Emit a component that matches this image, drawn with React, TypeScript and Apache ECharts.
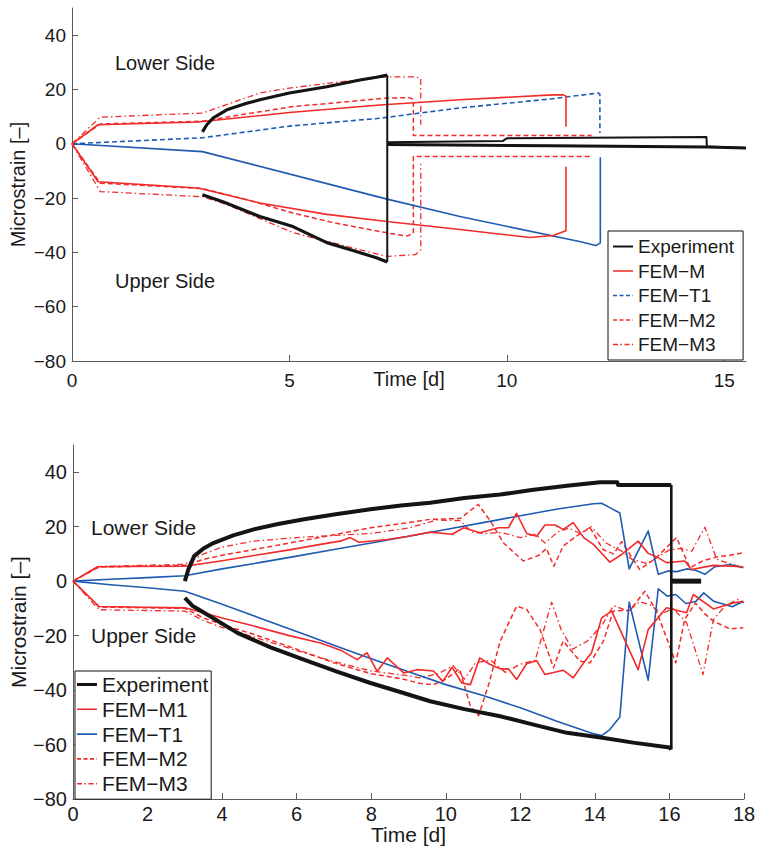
import React, { useEffect, useRef } from "react";
import * as echarts from "echarts";

// ---------- Top chart data [time (d), microstrain] ----------
const topExpUpper = [[3.0, 4.4], [3.1, 7], [3.25, 9.5], [3.56, 12.5], [4.0, 14.8], [4.32, 16.2], [5.0, 18.7], [5.86, 21], [6.62, 23.5], [7.0, 24.5], [7.25, 25.3]];
const topExpLower = [[3.0, -18.8], [3.5, -21.5], [4.32, -26.8], [5.08, -30.5], [5.86, -36.4], [6.5, -39.5], [7.0, -42], [7.25, -43.5]];
const topExpDrop = [[7.25, 25.3], [7.25, -43.5]];
const topExpAfterA = [[7.25, 0.6], [9.9, 1.0], [10.0, 2.0], [14.59, 2.5], [14.6, -1.0], [15.5, -1.6]];
const topExpAfterB = [[7.25, -0.3], [11.0, -0.7], [14.6, -1.2], [15.5, -1.6]];
const topMUpper = [[0, 0], [0.6, 7], [2.9, 8], [5.0, 11.5], [7.08, 14.3], [8.92, 16.2], [11.06, 18], [11.3, 18], [11.36, 17.5], [11.36, 6.3]];
const topMLower = [[0, 0], [0.6, -14], [2.9, -16.3], [4.32, -21.8], [5.86, -26], [7.24, -28.6], [8.92, -31.6], [10.53, -34.5], [11.06, -33.8], [11.36, -32], [11.36, -8.5]];
const topT1Upper = [[0, 0], [3, 2.2], [5, 6.5], [7.08, 9.4], [8.92, 13.2], [11, 16.5], [12.1, 18.7], [12.14, 18.3], [12.14, 4]];
const topT1Lower = [[0, 0], [3, -2.9], [7.2, -20.2], [8.92, -26.8], [11.67, -36], [12.05, -37.5], [12.15, -36.5], [12.15, -5]];
const topM2Upper = [[0, 0], [0.65, 7.3], [3, 8.3], [4, 11], [5.08, 13.7], [6, 15], [7.2, 16.8], [7.75, 17], [7.85, 16.4], [7.85, 3], [11.95, 3]];
const topM2Lower = [[0, 0], [0.65, -14.5], [3, -16.5], [4, -20.5], [5.08, -25.5], [6, -29], [7.24, -32.8], [7.7, -34], [7.85, -33], [7.85, -4.7], [11.95, -4.7]];
const topM3Upper = [[0, 0], [0.65, 9.8], [3, 11.3], [4.32, 18.7], [5, 20.5], [6, 22.5], [7.2, 24.6], [7.9, 24.6], [8.02, 24], [8.02, 7]];
const topM3Lower = [[0, 0], [0.65, -17.6], [3, -19.5], [3.56, -22.4], [5.08, -32.7], [6, -36.5], [7.24, -41.5], [7.9, -40.8], [8.02, -39], [8.02, -7.4]];

// ---------- Bottom chart data ----------
const botExpUpper = [[3.0, 0], [3.1, 4.5], [3.25, 9.2], [3.5, 12], [3.78, 14.1], [4.3, 16.8], [4.85, 19], [5.5, 21], [6.2, 22.7], [7.0, 24.5], [7.98, 26.4], [8.8, 27.8], [9.58, 28.8], [10.5, 30.5], [11.46, 31.8], [12.3, 33.5], [13.25, 35], [14.14, 36.3], [14.6, 36.3], [14.62, 35.3], [16.05, 35.3]];
const botExpLower = [[3.0, -6.1], [3.2, -9], [3.52, -11.6], [4.41, -19], [5.3, -24.3], [6.19, -28.8], [7.1, -33.3], [7.98, -37.4], [8.8, -40.8], [9.58, -44.1], [10.5, -47], [11.46, -49.6], [12.3, -52.5], [13.25, -55.7], [14.2, -57.5], [15.03, -59.3], [16.0, -61.1], [16.05, -61.8]];
const botExpDrop = [[16.05, 35.3], [16.05, -61.8]];
const botExpAfter = [[16.05, 0], [16.85, 0]];
const botM1Upper = [[0, 0], [0.66, 5.3], [1.5, 5.4], [3, 5.5], [4, 7.5], [4.85, 9.4], [5.8, 11.5], [6.64, 13.5], [7.2, 14.8], [7.44, 16], [7.67, 14.3], [8.43, 15.3], [9.0, 16.5], [9.58, 18], [10.17, 17.2], [10.48, 19.6], [10.92, 17.8], [11.41, 19.6], [11.68, 19.6], [11.9, 24.9], [12.17, 17.5], [12.44, 16.5], [12.66, 20.6], [12.93, 20.6], [13.15, 19], [13.42, 21.5], [13.7, 16], [13.96, 13.5], [14.2, 10], [14.4, 7], [14.72, 9.8], [15.16, 14.7], [15.43, 10.2], [15.65, 9], [15.92, 6.8], [16.41, 7.4], [16.59, 4.3], [17.18, 5.8], [17.98, 5.3]];
const botM1Lower = [[0, 0], [0.7, -9.3], [1.5, -9.5], [3, -9.8], [4, -13.5], [4.85, -16.5], [5.8, -20], [6.64, -22.7], [7.2, -25.5], [7.62, -28.8], [7.89, -26.3], [8.16, -33.1], [8.43, -28.2], [8.87, -33.7], [9.23, -32.5], [9.67, -33], [9.92, -36.8], [10.17, -31.6], [10.43, -37.4], [10.66, -38], [10.91, -28.2], [11.19, -30.6], [11.46, -32.2], [11.68, -32.2], [11.9, -36.1], [12.17, -30.3], [12.44, -29.2], [12.66, -34.3], [13.15, -32.7], [13.42, -35.5], [13.7, -30], [13.91, -26.3], [14.18, -13.5], [14.45, -11], [15.16, -32.5], [15.43, -17.8], [15.92, -9.8], [16.46, -11.6], [16.64, -4.9], [17.18, -10.2], [17.71, -8], [17.98, -7.4]];
const botT1Upper = [[0, 0], [1, 0.7], [2, 1.3], [3, 2], [4, 4.5], [5, 6.8], [6, 9.2], [7, 11.6], [8, 14], [9, 16.5], [10, 19], [11, 21.5], [12, 24], [13, 26.5], [13.96, 28.4], [14.18, 28.6], [14.4, 27], [14.67, 25], [14.92, 4.5], [15.43, 18.4], [15.7, 2.5], [15.97, 3.7], [16.2, 3.5], [16.46, 4.5], [16.7, 4], [16.95, 2.5], [17.22, 5.3], [17.62, 6.1], [17.98, 4.9]];
const botT1Lower = [[0, 0], [1, -1.3], [2, -2.4], [3, -3.7], [4, -8.5], [5, -13.5], [6, -18.5], [7, -23.5], [8, -28.5], [9, -33.3], [10, -38], [11, -42], [12, -46.5], [13, -51.5], [13.96, -56], [14.18, -56.7], [14.4, -54.5], [14.67, -49.9], [14.92, -7.7], [15.43, -36.4], [15.7, -2.8], [15.94, -5.5], [16.17, -4.9], [16.44, -8.2], [16.7, -7.5], [16.92, -4.3], [17.19, -7.4], [17.69, -9.4], [17.98, -7.4]];
const botM2Upper = [[0, 0], [0.7, 5.2], [3, 5.8], [3.5, 8], [4, 9.5], [4.85, 11.6], [6, 14.5], [7, 17], [7.98, 19.6], [9, 21.5], [9.58, 22.7], [10.39, 23], [10.87, 28.2], [11.2, 22], [11.55, 14], [12.08, 7.4], [12.5, 9.5], [12.7, 12], [12.9, 5.5], [13.15, 12.9], [13.5, 16.5], [13.87, 19.6], [14.22, 11.6], [14.5, 10], [14.72, 14.5], [15.2, 4.3], [15.6, 8], [16.19, 16], [16.55, 4.9], [16.9, 7.5], [17.3, 9], [17.62, 9.5], [17.98, 10.4]];
const botM2Lower = [[0, 0], [0.7, -9.5], [3, -10], [3.5, -13.5], [4, -16], [4.85, -19.5], [6, -25], [7, -30], [8, -34], [8.87, -36], [9.3, -37.5], [9.67, -38], [10.0, -36], [10.37, -32.2], [10.66, -46], [10.88, -49.4], [11.15, -38], [11.46, -22], [11.9, -9.2], [12.17, -10.4], [12.53, -17.8], [12.89, -31.8], [13.15, -22], [13.6, -29.4], [13.87, -30], [14.23, -22], [14.49, -11], [14.94, -10.7], [15.34, -3.7], [15.65, -11], [15.9, -20], [16.17, -30], [16.41, -14], [16.7, -8], [16.95, -12], [17.18, -14.7], [17.62, -17.5], [17.98, -17.1]];
const botM3Upper = [[0, 0], [0.7, 5.4], [3, 6.2], [3.5, 10], [4, 12.5], [4.85, 14.7], [6, 16], [7, 16.8], [7.98, 17.5], [9, 19.5], [9.76, 22.5], [10.39, 22.2], [10.7, 18], [11.0, 17.5], [11.5, 17.8], [12.0, 16], [12.4, 17.2], [12.66, 14], [13.0, 18], [13.3, 19.5], [13.6, 17.5], [13.9, 20], [14.3, 14], [14.72, 11], [15.0, 8], [15.4, 6.5], [15.7, 9], [16.0, 11.5], [16.3, 12], [16.6, 11], [16.95, 19.8], [17.27, 8], [17.6, 6.5], [17.98, 5]];
const botM3Lower = [[0, 0], [0.7, -10.5], [3, -11], [3.5, -14.5], [4, -17], [4.85, -20.5], [6, -25.5], [7, -29.5], [8, -33], [8.87, -34.5], [9.3, -35.5], [9.8, -34], [10.2, -31], [10.5, -36], [10.8, -30], [11.2, -29], [11.6, -33.5], [12.0, -30.5], [12.4, -29], [12.84, -7.7], [13.1, -18], [13.4, -25], [13.8, -22], [14.2, -16], [14.5, -9], [14.9, -11], [15.2, -7.5], [15.47, -8.6], [15.8, -12], [16.1, -10], [16.46, -15.3], [16.9, -34.3], [17.18, -14.1], [17.5, -9], [17.84, -6.7], [18, -8]];

// ---------- Labels ----------
const topLegendNames = ["Experiment", "FEM\u2212M", "FEM\u2212T1", "FEM\u2212M2", "FEM\u2212M3"];
const botLegendNames = ["Experiment#b", "FEM\u2212M1#b", "FEM\u2212T1#b", "FEM\u2212M2#b", "FEM\u2212M3#b"];
const topXTicks = { min: 0, max: 15.5, interval: 5 };
const botXTicks = { min: 0, max: 18, interval: 2 };
const yTicks = { min: -80, max: 50, interval: 20 };

const RED = "#f22a2a";
const BLUE = "#1f5bb0";
const BLACK = "#141414";
const AXIS = "#5a5a5a";
const FONT = "Liberation Sans";
const DASH = [5, 3];
const DASHDOT = [6, 3, 1.5, 3];

// legend icons: 20x14 box with the line drawn in the middle
const BOX = "M0,0h0.01v0.01h-0.01z M19.99,13.99h0.01v0.01h-0.01z ";
const ICON_SOLID = "path://" + BOX + "M0,6.2h20v1.6h-20z";
const ICON_THICK = "path://" + BOX + "M0,5.4h20v3.2h-20z";
const ICON_EXP = "path://" + BOX + "M0,6h20v2h-20z";
const ICON_DASH = "path://" + BOX + "M0,6.2h4v1.6h-4z M6.5,6.2h4v1.6h-4z M13,6.2h4v1.6h-4z M19.5,6.2h0.5v1.6h-0.5z";
const ICON_DASHDOT = "path://" + BOX + "M0,6.3h5v1.4h-5z M7.5,6.3h1.5v1.4h-1.5z M11.5,6.3h5v1.4h-5z M19,6.3h1v1.4h-1z";

function line(name: string, data: number[][], color: string, width: number, type: any, idx: number, z = 2) {
  return {
    type: "line",
    name,
    data,
    xAxisIndex: idx,
    yAxisIndex: idx,
    symbol: "none",
    showSymbol: false,
    silent: true,
    z,
    lineStyle: { color, width, type, cap: "butt", join: "round" },
    itemStyle: { color },
  };
}

function minus(v: number) {
  return String(v).replace("-", "\u2212");
}

export default function App() {
  const ref = useRef<HTMLDivElement>(null);
  useEffect(() => {
    if (!ref.current) return;
    const chart = echarts.init(ref.current, null, { renderer: "svg" });
    const axisCommon = (fs: number) => ({
      axisLine: { show: true, onZero: false, lineStyle: { color: AXIS, width: 1 } },
      axisTick: { show: true, inside: true, length: 6, lineStyle: { color: AXIS } },
      splitLine: { show: false },
      axisLabel: { color: "#1a1a1a", fontSize: fs, fontFamily: FONT, showMaxLabel: false, formatter: (v: number) => minus(v) },
      nameTextStyle: { color: "#1a1a1a", fontSize: fs + 1, fontFamily: FONT },
      nameMoveOverlap: false,
    });
    const legendCommon = (fs: number) => ({
      orient: "vertical",
      selectedMode: false,
      backgroundColor: "#fff",
      borderColor: "#111",
      borderWidth: 1,
      borderRadius: 0,
      textStyle: { fontSize: fs, fontFamily: FONT, color: "#1a1a1a", lineHeight: fs },
      formatter: (n: string) => n.replace("#b", ""),
    });
    const icons = [ICON_EXP, ICON_SOLID, ICON_DASH, ICON_DASH, ICON_DASHDOT];
    const iconsB = [ICON_THICK, ICON_SOLID, ICON_SOLID, ICON_DASH, ICON_DASHDOT];
    chart.setOption({
      animation: false,
      grid: [
        { left: 72, top: 8, width: 674, height: 353 },
        { left: 72, top: 445, width: 672, height: 354 },
      ],
      xAxis: [
        { type: "value", gridIndex: 0, ...topXTicks, name: "Time [d]", nameLocation: "middle", nameGap: 8, ...axisCommon(19), axisLabel: { ...axisCommon(19).axisLabel, margin: 10 } },
        { type: "value", gridIndex: 1, ...botXTicks, name: "Time [d]", nameLocation: "middle", nameGap: 25, ...axisCommon(20), axisLabel: { ...axisCommon(20).axisLabel, margin: 5, showMaxLabel: true } },
      ],
      yAxis: [
        { type: "value", gridIndex: 0, ...yTicks, name: "Microstrain [\u2013]", nameLocation: "middle", nameGap: 44, ...axisCommon(19), axisLabel: { ...axisCommon(19).axisLabel, margin: 6 } },
        { type: "value", gridIndex: 1, ...yTicks, name: "Microstrain [\u2013]", nameLocation: "middle", nameGap: 44, ...axisCommon(20), axisLabel: { ...axisCommon(20).axisLabel, margin: 6 } },
      ],
      legend: [
        {
          ...legendCommon(19),
          data: topLegendNames.map((n, i) => ({ name: n, icon: icons[i] })),
          left: 608,
          top: 231,
          itemWidth: 20,
          itemHeight: 14,
          itemGap: 5.5,
          padding: [6, 9, 6, 5],
        },
        {
          ...legendCommon(21),
          data: botLegendNames.map((n, i) => ({ name: n, icon: iconsB[i] })),
          left: 75,
          top: 671,
          itemWidth: 20,
          itemHeight: 14,
          itemGap: 3.8,
          padding: [3, 3, 5, 2],
        },
      ],
      graphic: [
        { type: "text", left: 115, top: 53, style: { text: "Lower Side", fontSize: 20, fontFamily: FONT, fill: "#1a1a1a" } },
        { type: "text", left: 115, top: 271, style: { text: "Upper Side", fontSize: 20, fontFamily: FONT, fill: "#1a1a1a" } },
        { type: "text", left: 91, top: 517, style: { text: "Lower Side", fontSize: 21, fontFamily: FONT, fill: "#1a1a1a" } },
        { type: "text", left: 91, top: 625, style: { text: "Upper Side", fontSize: 21, fontFamily: FONT, fill: "#1a1a1a" } },
      ],
      series: [
        // top chart
        line("FEM\u2212M3", topM3Upper, RED, 1.3, DASHDOT, 0),
        line("m3-top-lower", topM3Lower, RED, 1.3, DASHDOT, 0),
        line("FEM\u2212M2", topM2Upper, RED, 1.5, DASH, 0),
        line("m2-top-lower", topM2Lower, RED, 1.5, DASH, 0),
        line("FEM\u2212T1", topT1Upper, BLUE, 1.6, DASH, 0),
        line("t1-top-lower", topT1Lower, BLUE, 1.6, "solid", 0),
        line("FEM\u2212M", topMUpper, RED, 1.6, "solid", 0),
        line("m-top-lower", topMLower, RED, 1.6, "solid", 0),
        line("Experiment", topExpDrop, BLACK, 2, "solid", 0, 3),
        line("exp-top-upper", topExpUpper, BLACK, 3.2, "solid", 0, 3),
        line("exp-top-lower", topExpLower, BLACK, 3.2, "solid", 0, 3),
        line("exp-top-after-a", topExpAfterA, BLACK, 2, "solid", 0, 3),
        line("exp-top-after-b", topExpAfterB, BLACK, 3, "solid", 0, 3),
        // bottom chart
        line("Experiment#b", botExpUpper, BLACK, 4, "solid", 1, 3),
        line("exp-bot-lower", botExpLower, BLACK, 4, "solid", 1, 3),
        line("exp-bot-drop", botExpDrop, BLACK, 2.6, "solid", 1, 3),
        line("exp-bot-after", botExpAfter, BLACK, 5, "solid", 1, 3),
        line("FEM\u2212M3#b", botM3Upper, RED, 1.3, DASHDOT, 1),
        line("m3-bot-lower", botM3Lower, RED, 1.3, DASHDOT, 1),
        line("FEM\u2212M2#b", botM2Upper, RED, 1.5, DASH, 1),
        line("m2-bot-lower", botM2Lower, RED, 1.5, DASH, 1),
        line("FEM\u2212T1#b", botT1Upper, BLUE, 1.6, "solid", 1),
        line("t1-bot-lower", botT1Lower, BLUE, 1.6, "solid", 1),
        line("FEM\u2212M1#b", botM1Upper, RED, 1.6, "solid", 1),
        line("m1-bot-lower", botM1Lower, RED, 1.6, "solid", 1),
      ],
    });
    return () => chart.dispose();
  }, []);
  return <div ref={ref} style={{ position: "fixed", left: 0, top: 0, width: 759, height: 848, background: "#fff" }} />;
}
